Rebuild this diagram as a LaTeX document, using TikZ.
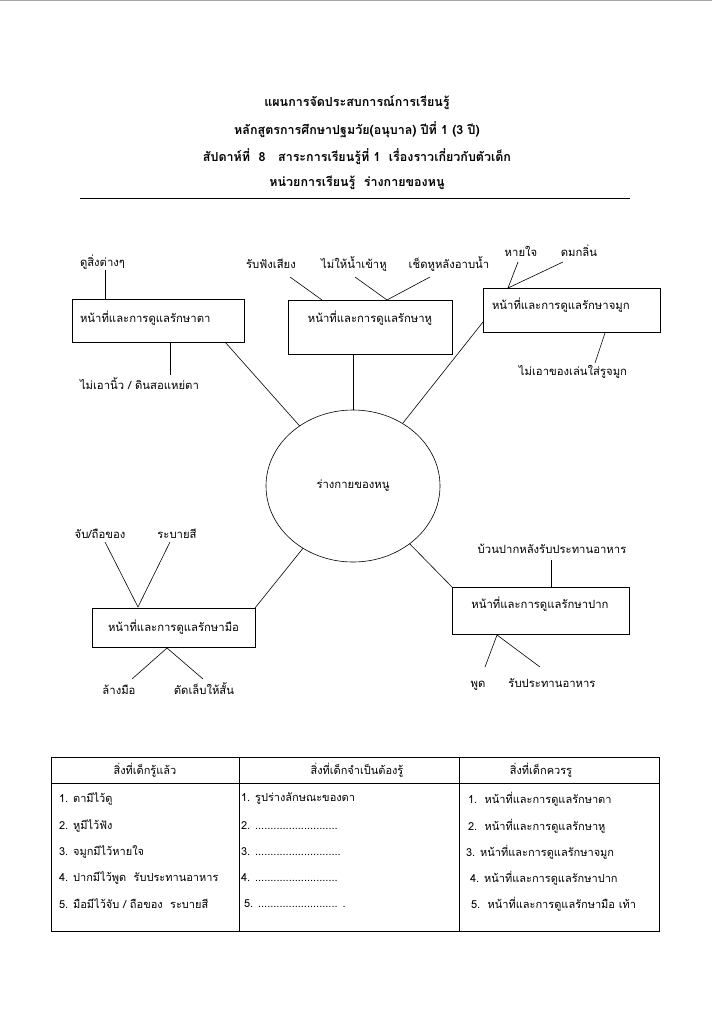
\documentclass[tikz,border=0pt]{standalone}
\usepackage{fontspec}
\setmainfont[Script=Thai]{Loma}
\usetikzlibrary{shapes.geometric}
\begin{document}
\begin{tikzpicture}[x=1pt,y=-1pt,
  every node/.style={inner sep=0pt,outer sep=0pt},
  conn/.style={line width=0.6pt},
  boxed/.style={draw,line width=0.6pt},
  lbl/.style={font=\fontsize{11.3}{13}\selectfont},
  hdr/.style={font=\fontsize{12.5}{15}\selectfont\bfseries},
  cell/.style={font=\fontsize{11}{12}\selectfont,anchor=west}]
\useasboundingbox (0,0) rectangle (712,1024);
\fill[white] (0,0) rectangle (712,1024);
\draw[gray!70,line width=1pt] (0,0.5) -- (712,0.5);
% header
\node[hdr] (h1) at (357,103) {แผนการจัดประสบการณ์การเรียนรู้};
\node[hdr] (h2) at (357,130) {หลักสูตรการศึกษาปฐมวัย(อนุบาล) ปีที่ 1 (3 ปี)};
\node[hdr] (h3) at (357,157) {สัปดาห์ที่~~8~~~สาระการเรียนรู้ที่ 1~~เรื่องราวเกี่ยวกับตัวเด็ก};
\node[hdr] (h4) at (357,183) {หน่วยการเรียนรู้~~ร่างกายของหนู};
\coordinate (r1) at (80,198); \coordinate (r2) at (630,198);
\draw[line width=0.8pt] (r1) -- (r2);
% centre
\node[draw,ellipse,line width=0.6pt,minimum width=174,minimum height=152,lbl] (body) at (353,486) {ร่างกายของหนู};
% eye
\node[boxed,minimum width=172,minimum height=43] (eye) at (158,320.5) {};
\node[lbl,anchor=west] (eyet) at (80,318) {หน้าที่และการดูแลรักษาตา};
\node[lbl,anchor=west] (e1) at (80,262) {ดูสิ่งต่างๆ};
\node[lbl,anchor=west] (e2) at (80,384) {ไม่เอานิ้ว / ดินสอแหย่ตา};
\coordinate (e1a) at (105,270); \coordinate (e1b) at (105,299);
\coordinate (e2a) at (170,342); \coordinate (e2b) at (170,375);
\coordinate (eb) at (225,342);
\draw[conn] (e1a) -- (e1b);
\draw[conn] (e2a) -- (e2b);
\draw[conn] (eb) -- (body);
% ear
\node[boxed,minimum width=164,minimum height=54] (ear) at (370,327) {};
\node[lbl] (eart) at (370,318) {หน้าที่และการดูแลรักษาหู};
\node[lbl] (r1l) at (271,264) {รับฟังเสียง};
\node[lbl] (r2l) at (354,264) {ไม่ให้น้ำเข้าหู};
\node[lbl] (r3l) at (449,264) {เช็ดหูหลังอาบน้ำ};
\coordinate (a1) at (290,277); \coordinate (a1b) at (322,300);
\coordinate (a2) at (355,277); \coordinate (a3) at (430,277); \coordinate (a23) at (387,300);
\coordinate (ab) at (353,354);
\draw[conn] (a1) -- (a1b);
\draw[conn] (a2) -- (a23) -- (a3);
\draw[conn] (ab) -- (body);
% nose
\node[boxed,minimum width=177,minimum height=44] (nose) at (571.5,310) {};
\node[lbl,anchor=west] (noset) at (492,305) {หน้าที่และการดูแลรักษาจมูก};
\node[lbl] (n1) at (521,251) {หายใจ};
\node[lbl] (n2) at (579,251) {ดมกลิ่น};
\node[lbl] (n3) at (573,372) {ไม่เอาของเล่นใส่รูจมูก};
\coordinate (n1a) at (518,262); \coordinate (n2a) at (563,262); \coordinate (n12) at (508,288);
\coordinate (n3a) at (605,333); \coordinate (n3b) at (595,363);
\coordinate (nb) at (483,322);
\draw[conn] (n1a) -- (n12) -- (n2a);
\draw[conn] (n3a) -- (n3b);
\draw[conn] (nb) -- (body);
% hand
\node[boxed,minimum width=163,minimum height=39] (hand) at (173.5,627.5) {};
\node[lbl] (handt) at (173.5,627) {หน้าที่และการดูแลรักษามือ};
\node[lbl] (h1l) at (100,534) {จับ/ถือของ};
\node[lbl] (h2l) at (177,534) {ระบายสี};
\node[lbl] (h3l) at (119,690) {ล้างมือ};
\node[lbl] (h4l) at (204,689) {ตัดเล็บให้สั้น};
\coordinate (ha1) at (105,542); \coordinate (ha2) at (170,542); \coordinate (ha12) at (138,607);
\coordinate (hb) at (167,648); \coordinate (hb1) at (132,679); \coordinate (hb2) at (203,679);
\coordinate (hc) at (255,608);
\draw[conn] (ha1) -- (ha12) -- (ha2);
\draw[conn] (hb1) -- (hb) -- (hb2);
\draw[conn] (hc) -- (body);
% mouth
\node[boxed,minimum width=177,minimum height=47] (mouth) at (540.5,610.5) {};
\node[lbl] (moutht) at (540,604) {หน้าที่และการดูแลรักษาปาก};
\node[lbl] (m1) at (552,549) {บ้วนปากหลังรับประทานอาหาร};
\node[lbl,anchor=base] (m2) at (478,687) {พูด};
\node[lbl,anchor=base] (m3) at (552,687) {รับประทานอาหาร};
\coordinate (m1a) at (551,560); \coordinate (m1b) at (551,587);
\coordinate (mb) at (497,635); \coordinate (mb1) at (485,667); \coordinate (mb2) at (540,667);
\coordinate (mc) at (452,587);
\draw[conn] (m1a) -- (m1b);
\draw[conn] (mb1) -- (mb) -- (mb2);
\draw[conn] (mc) -- (body);
% table
\coordinate (t1) at (51,757); \coordinate (t2) at (659,931);
\draw[line width=0.8pt] (t1) rectangle (t2);
\coordinate (c1a) at (239,757); \coordinate (c1b) at (239,931);
\coordinate (c2a) at (459,757); \coordinate (c2b) at (459,931);
\coordinate (ra) at (51,783); \coordinate (rb) at (659,783);
\draw[line width=0.6pt] (c1a) -- (c1b);
\draw[line width=0.6pt] (c2a) -- (c2b);
\draw[line width=0.6pt] (ra) -- (rb);
\node[cell,anchor=center] (th1) at (145,770) {สิ่งที่เด็กรู้แล้ว};
\node[cell,anchor=center] (th2) at (357,770) {สิ่งที่เด็กจำเป็นต้องรู้};
\node[cell,anchor=center] (th3) at (541,770) {สิ่งที่เด็กควรรู};
\node[cell] (a11) at (59,799) {1. ตามีไว้ดู};
\node[cell] (a12) at (59,826) {2. หูมีไว้ฟัง};
\node[cell] (a13) at (59,852) {3. จมูกมีไว้หายใจ};
\node[cell] (a14) at (59,878) {4. ปากมีไว้พูด~~รับประทานอาหาร};
\node[cell] (a15) at (59,904) {5. มือมีไว้จับ / ถือของ~~ระบายสี};
\node[cell] (b11) at (241,799) {1. รูปร่างลักษณะของตา};
\node[cell] (b12) at (241,826) {2. ...........................};
\node[cell] (b13) at (241,852) {3. ............................};
\node[cell] (b14) at (241,878) {4. ...........................};
\node[cell] (b15) at (244,904) {5. .......................... .};
\node[cell] (c11) at (468,799) {1.~~หน้าที่และการดูแลรักษาตา};
\node[cell] (c12) at (468,826) {2.~~หน้าที่และการดูแลรักษาหู};
\node[cell] (c13) at (466,852) {3. หน้าที่และการดูแลรักษาจมูก};
\node[cell] (c14) at (470,878) {4. หน้าที่และการดูแลรักษาปาก};
\node[cell] (c15) at (471,904) {5.~~หน้าที่และการดูแลรักษามือ เท้า};
\end{tikzpicture}
\end{document}
